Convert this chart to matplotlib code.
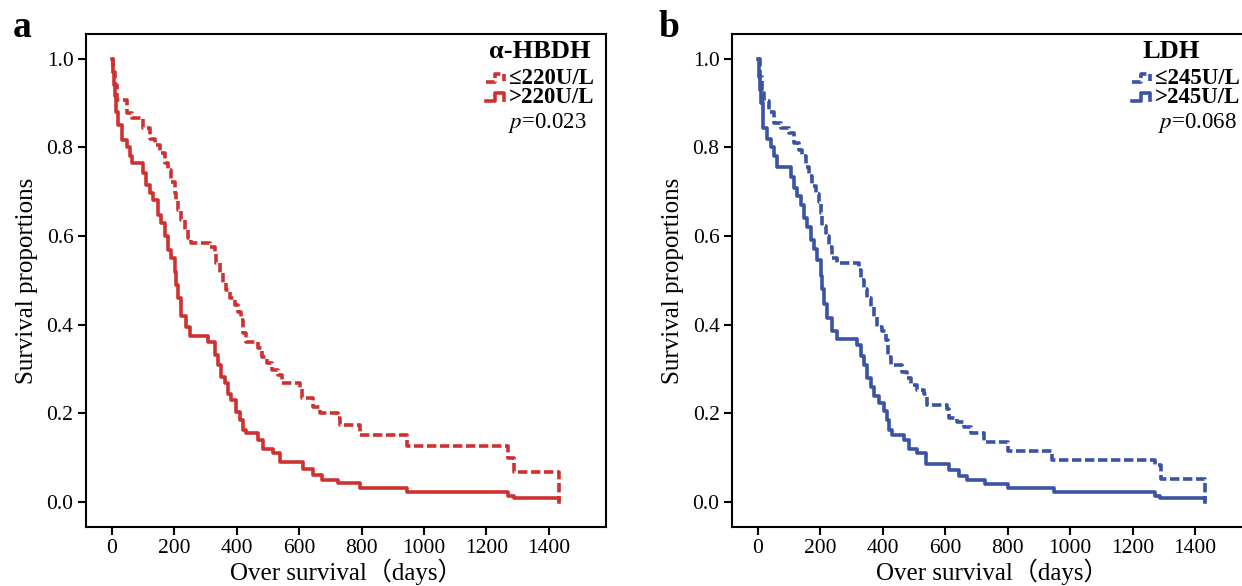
import numpy as np
import matplotlib
matplotlib.use("Agg")
import matplotlib.pyplot as plt
from matplotlib.lines import Line2D
from matplotlib.legend_handler import HandlerBase

plt.rcParams["font.family"] = ["Liberation Serif", "DejaVu Serif"]
plt.rcParams["mathtext.fontset"] = "stix"

# ----------------------------
# Kaplan-Meier steps (day of drop, survival after drop)
# ----------------------------
hbdh_hi_t = [0, 3, 6, 10, 14, 20, 34, 47, 58, 63, 100, 109, 122, 132, 148, 159, 170, 180,
             191, 202, 207, 213, 223, 239, 250, 309, 330, 341, 351, 362, 373, 383, 399, 410,
             421, 431, 469, 485, 517, 538, 613, 645, 672, 725, 796, 947, 1270, 1287, 1433]
hbdh_hi_s = [1.0, 0.97, 0.94, 0.915, 0.88, 0.85, 0.816, 0.80, 0.78, 0.765, 0.743, 0.716, 0.697,
             0.682, 0.648, 0.63, 0.60, 0.569, 0.55, 0.52, 0.49, 0.46, 0.42, 0.396, 0.375, 0.362,
             0.332, 0.31, 0.283, 0.268, 0.245, 0.23, 0.204, 0.185, 0.163, 0.155, 0.14, 0.121,
             0.11, 0.091, 0.074, 0.061, 0.051, 0.043, 0.032, 0.023, 0.015, 0.009, 0.0]

hbdh_lo_t = [0, 4, 10, 15, 47, 63, 100, 122, 138, 154, 170, 180, 191, 202, 207, 213, 223, 234,
             245, 255, 314, 330, 335, 346, 355, 367, 378, 394, 405, 415, 419, 431, 469, 480,
             496, 512, 533, 544, 602, 608, 645, 666, 725, 731, 795, 945, 1270, 1287, 1433]
hbdh_lo_s = [1.0, 0.97, 0.94, 0.907, 0.877, 0.866, 0.843, 0.82, 0.806, 0.787, 0.764, 0.749,
             0.723, 0.697, 0.68, 0.659, 0.636, 0.614, 0.595, 0.585, 0.576, 0.565, 0.539, 0.516,
             0.494, 0.479, 0.46, 0.445, 0.43, 0.41, 0.381, 0.362, 0.347, 0.328, 0.313, 0.298,
             0.287, 0.268, 0.257, 0.234, 0.215, 0.2, 0.189, 0.174, 0.151, 0.126, 0.10, 0.068, 0.0]

ldh_hi_t = [0, 3, 7, 11, 17, 30, 41, 51, 62, 105, 115, 126, 137, 147, 158, 169, 179, 190, 201,
            206, 211, 222, 238, 254, 318, 329, 340, 350, 361, 372, 388, 404, 414, 420, 430, 468,
            484, 511, 537, 612, 644, 671, 726, 800, 947, 1272, 1287, 1432]
ldh_hi_s = [1.0, 0.96, 0.93, 0.90, 0.843, 0.82, 0.802, 0.78, 0.757, 0.734, 0.708, 0.69, 0.67,
            0.64, 0.62, 0.591, 0.57, 0.546, 0.51, 0.48, 0.448, 0.415, 0.385, 0.367, 0.354, 0.33,
            0.309, 0.28, 0.26, 0.24, 0.223, 0.205, 0.185, 0.163, 0.151, 0.14, 0.121, 0.11, 0.087,
            0.072, 0.059, 0.05, 0.041, 0.032, 0.023, 0.015, 0.009, 0.0]

ldh_lo_t = [0, 5, 14, 21, 35, 51, 73, 99, 115, 131, 142, 153, 163, 174, 185, 195, 201, 206, 217,
            227, 238, 254, 324, 329, 340, 348, 361, 372, 382, 398, 409, 417, 425, 462, 478, 489,
            511, 532, 543, 607, 612, 639, 660, 681, 724, 800, 941, 1272, 1290, 1432]
ldh_lo_s = [1.0, 0.96, 0.922, 0.904, 0.88, 0.855, 0.843, 0.832, 0.81, 0.795, 0.78, 0.757, 0.735,
            0.712, 0.695, 0.678, 0.652, 0.622, 0.6, 0.575, 0.55, 0.539, 0.524, 0.501, 0.48, 0.46,
            0.44, 0.418, 0.396, 0.385, 0.366, 0.328, 0.309, 0.294, 0.279, 0.264, 0.253, 0.245,
            0.219, 0.211, 0.189, 0.18, 0.17, 0.155, 0.136, 0.116, 0.096, 0.084, 0.052, 0.0]

x_ticks = [0, 200, 400, 600, 800, 1000, 1200, 1400]
y_ticks = [0.0, 0.2, 0.4, 0.6, 0.8, 1.0]

RED = "#cf3131"
BLUE = "#3a53a4"
DASH = (0, (2.6, 1.0))


class StepHandler(HandlerBase):
    """Legend key drawn as a small survival step."""

    def create_artists(self, legend, orig_handle, xdescent, ydescent,
                       width, height, fontsize, trans):
        x = np.array([0, 0.4, 0.4, 0.85, 0.85]) * width - xdescent
        y = np.array([0.15, 0.15, 0.65, 0.65, 0.2]) * height - ydescent
        line = Line2D(x, y)
        self.update_prop(line, orig_handle, legend)
        line.set_transform(trans)
        return [line]


def draw_panel(ax, t_lo, s_lo, t_hi, s_hi, color, title, lab_lo, lab_hi, ptext,
               title_x, p_x):
    l1, = ax.step(t_lo, s_lo, where="post", color=color, lw=2.6, linestyle=DASH)
    l2, = ax.step(t_hi, s_hi, where="post", color=color, lw=2.6)

    ax.set_xlim(-83, 1583)
    ax.set_ylim(-0.056, 1.056)
    ax.set_xticks(x_ticks)
    ax.set_yticks(y_ticks)
    ax.set_yticklabels([f"{v:.1f}" for v in y_ticks])
    ax.tick_params(labelsize=15.5, length=6, width=1.5, pad=3)
    for sp in ax.spines.values():
        sp.set_linewidth(1.5)

    ax.set_ylabel("Survival proportions", fontsize=18, labelpad=6)
    ax.set_xlabel("Over survival（days）", fontsize=18, labelpad=0,
                  family=["Liberation Serif", "Noto Sans CJK SC"])

    ax.text(title_x, 0.9635, title, transform=ax.transAxes, ha="center",
            va="center", fontsize=19, fontweight="bold")
    ax.legend([l1, l2], [lab_lo, lab_hi], loc="center left",
              bbox_to_anchor=(0.769, 0.890), frameon=False,
              handler_map={Line2D: StepHandler()},
              handlelength=0.95, handletextpad=0.05, labelspacing=-0.1,
              borderaxespad=0.0, borderpad=0.0,
              prop={"weight": "bold", "size": 16.5})
    ax.text(p_x, 0.819, r"$p$=" + ptext, transform=ax.transAxes,
            ha="center", va="center", fontsize=16.5)


def main():
    fig = plt.figure(figsize=(12.42, 5.86), dpi=100)
    ax1 = fig.add_axes([0.0692, 0.1007, 0.4187, 0.8413])
    ax2 = fig.add_axes([0.5894, 0.1007, 0.4187, 0.8413])

    draw_panel(ax1, hbdh_lo_t, hbdh_lo_s, hbdh_hi_t, hbdh_hi_s, RED,
               "α-HBDH", "≤220U/L", ">220U/L", "0.023", 0.873, 0.887)
    draw_panel(ax2, ldh_lo_t, ldh_lo_s, ldh_hi_t, ldh_hi_s, BLUE,
               "LDH", "≤245U/L", ">245U/L", "0.068", 0.844, 0.894)
    # the second panel runs past the page edge in the source figure
    ax2.spines["right"].set_visible(False)

    fig.text(0.010, 0.937, "a", fontsize=27, fontweight="bold")
    fig.text(0.530, 0.937, "b", fontsize=27, fontweight="bold")

    fig.savefig("out.png", dpi=100)


if __name__ == "__main__":
    main()
